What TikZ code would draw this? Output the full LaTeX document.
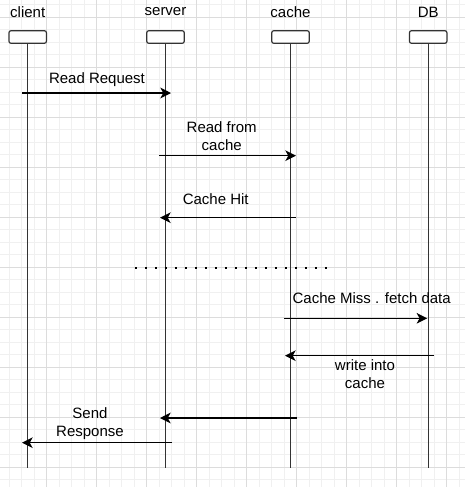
\documentclass[tikz,border=0pt]{standalone}
\usepackage{fontspec}
\setmainfont{Liberation Sans}
\usetikzlibrary{arrows.meta}

\begin{document}
\begin{tikzpicture}[x=0.75pt,y=0.75pt,yscale=-1,xscale=1,
  gridminor/.style={color={rgb, 255:red, 240; green, 240; blue, 240}, line width=0.75pt},
  gridmajor/.style={color={rgb, 255:red, 220; green, 220; blue, 220}, line width=0.75pt},
  head/.style={draw={rgb, 255:red, 51; green, 51; blue, 51}, fill=white, rounded corners=1.5pt, minimum width=28.1pt, minimum height=9.4pt, inner sep=0pt, line width=0.9pt},
  life/.style={draw={rgb, 255:red, 51; green, 51; blue, 51}, line width=0.9pt},
  msg/.style={line width=0.9pt, -{Stealth[length=8pt,width=8pt,inset=2.2pt]}},
  lbl/.style={inner sep=0pt, font=\fontsize{11.25}{13.5}\selectfont, align=center},
]
\useasboundingbox (0,0) rectangle (465,487);
\fill[white] (0,0) rectangle (465,487);

%Grid
\foreach \i in {0,...,36} \draw[gridminor] ({9.2+12.5*\i},0) -- ({9.2+12.5*\i},487);
\foreach \i in {0,...,38} \draw[gridminor] (0,{4.5+12.5*\i}) -- (465,{4.5+12.5*\i});
\foreach \i in {0,...,8} \draw[gridmajor] ({46.7+50*\i},0) -- ({46.7+50*\i},487);
\foreach \i in {0,...,9} \draw[gridmajor] (0,{17+50*\i}) -- (465,{17+50*\i});

%Lifeline heads
\node[head] (client) at (27.7,37) {};
\node[head] (server) at (165.5,37) {};
\node[head] (cache) at (290.5,37) {};
\node[head] (db) at (428.2,37) {};

% Text Node
\node[lbl] (clientlbl) at (27.7,12) {client};
\node[lbl] (serverlbl) at (165.5,12) {server};
\node[lbl] (cachelbl) at (290.5,12) {cache};
\node[lbl] (dblbl) at (428.2,12) {DB};

%Lifelines
\coordinate (clientend) at (27.7,468);
\coordinate (serverend) at (165.5,468);
\coordinate (cacheend) at (290.5,468);
\coordinate (dbend) at (428.2,468);
\draw[life] (client.south) -- (clientend);
\draw[life] (server.south) -- (serverend);
\draw[life] (cache.south) -- (cacheend);
\draw[life] (db.south) -- (dbend);

%Messages
\coordinate (req1) at (22,93);
\coordinate (req2) at (171,93);
\draw[msg] (req1) -- (req2);
\node[lbl] (reqlbl) at (97,80) {Read Request};

\coordinate (rd1) at (159,155.7);
\coordinate (rd2) at (296,155.7);
\draw[msg] (rd1) -- (rd2);
\node[lbl] (rdlbl) at (221.7,136.3) {Read from\\cache};

\coordinate (hit1) at (296,217.7);
\coordinate (hit2) at (160,217.7);
\draw[msg] (hit1) -- (hit2);
\node[lbl] (hitlbl) at (215.7,199) {Cache Hit};

%Dotted separator
\coordinate (sep1) at (135,267.7);
\coordinate (sep2) at (328,267.7);
\draw[line width=1.6pt, dash pattern={on 1.6pt off 5.9pt}] (sep1) -- (sep2);

\coordinate (miss1) at (284,318.3);
\coordinate (miss2) at (427.3,318.3);
\draw[msg] (miss1) -- (miss2);
\node[lbl] (misslbl) at (371.7,298.3) {Cache Miss . fetch data};

\coordinate (wr1) at (434,355.7);
\coordinate (wr2) at (285,355.7);
\draw[msg] (wr1) -- (wr2);
\node[lbl] (wrlbl) at (365,374) {write into\\cache};

\coordinate (ret1) at (297,418);
\coordinate (ret2) at (160,418);
\draw[msg] (ret1) -- (ret2);

\coordinate (resp1) at (172,442.7);
\coordinate (resp2) at (22,442.7);
\draw[msg] (resp1) -- (resp2);
\node[lbl] (resplbl) at (90,424) {Send\\Response};

\end{tikzpicture}
\end{document}
